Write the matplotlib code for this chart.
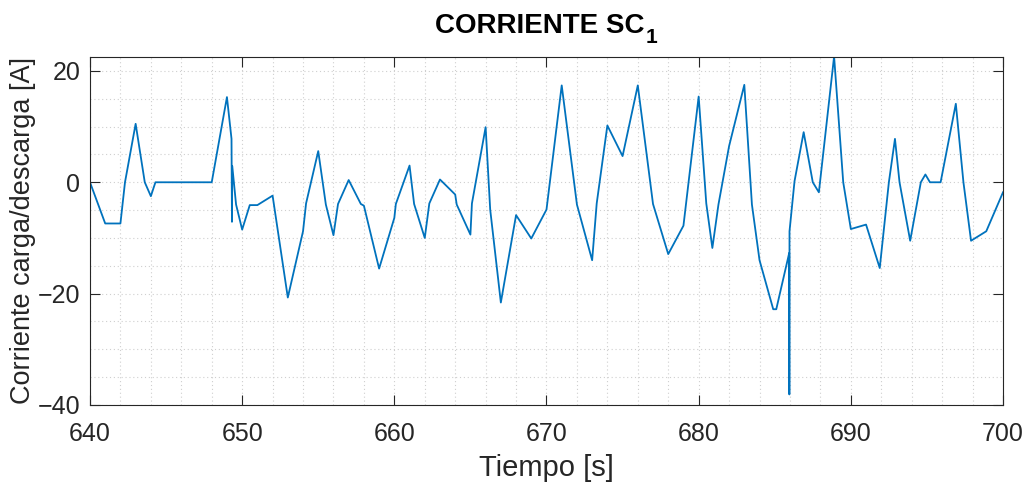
import matplotlib
matplotlib.use("Agg")
import matplotlib.pyplot as plt
from matplotlib.ticker import MultipleLocator

plt.rcParams['font.family'] = ['Liberation Sans', 'DejaVu Sans']

tiempo = [640.0, 641.0, 642.0, 642.3, 643.0, 643.6, 644.0, 644.3, 648.0, 649.0, 649.3, 649.33,
          649.35, 649.6, 650.0, 650.5, 651.0, 652.0, 653.0, 654.0, 654.2, 655.0, 655.5, 656.0,
          656.3, 657.0, 657.8, 658.0, 659.0, 660.0, 660.1, 661.0, 661.3, 662.0, 662.3, 663.0,
          664.0, 664.1, 665.0, 665.1, 666.0, 666.3, 667.0, 668.0, 669.0, 670.0, 671.0, 672.0,
          673.0, 673.3, 674.0, 675.0, 676.0, 677.0, 678.0, 679.0, 680.0, 680.5, 680.9, 681.3,
          682.0, 683.0, 683.5, 684.0, 684.9, 685.1, 685.95, 685.96, 685.97, 686.3, 686.9, 687.5,
          687.9, 688.9, 689.5, 690.0, 691.0, 691.9, 692.5, 692.9, 693.2, 693.9, 694.6, 694.9,
          695.2, 695.9, 696.9, 697.4, 697.9, 698.9, 700.0]
corriente = [0.0, -7.4, -7.4, 0.0, 10.5, 0.0, -2.5, 0.0, 0.0, 15.3, 7.8, -7.1,
             2.9, -4.0, -8.5, -4.1, -4.1, -2.4, -20.7, -8.8, -3.8, 5.6, -4.0, -9.5,
             -3.9, 0.4, -3.9, -4.2, -15.5, -6.4, -3.9, 3.0, -3.9, -10.0, -3.8, 0.5,
             -2.2, -4.0, -9.4, -3.8, 9.9, -4.9, -21.6, -5.9, -10.1, -4.9, 17.4, -4.0,
             -14.0, -3.8, 10.2, 4.7, 17.4, -3.9, -12.9, -7.8, 15.4, -3.8, -11.8, -4.0,
             6.5, 17.5, -4.0, -14.0, -22.8, -22.8, -12.7, -38.1, -8.8, 0.2, 9.0, 0.0,
             -1.8, 22.6, 0.0, -8.4, -7.6, -15.4, 0.0, 7.8, 0.0, -10.5, 0.0, 1.4,
             0.0, 0.0, 14.1, 0.0, -10.5, -8.8, -1.8]

W, H = 1032, 483
fig = plt.figure(figsize=(W / 100, H / 100), dpi=100)
ax = fig.add_axes([0.0872, 0.1615, 0.8847, 0.7205])
ax.plot(tiempo, corriente, color='#0072BD', linewidth=1.3)

ax.set_xlim(640, 700)
ax.set_ylim(-40, 22.5)
ax.xaxis.set_major_locator(MultipleLocator(10))
ax.xaxis.set_minor_locator(MultipleLocator(2))
ax.yaxis.set_major_locator(MultipleLocator(20))
ax.yaxis.set_minor_locator(MultipleLocator(5))
ax.grid(True, which='both', linestyle=(0, (1, 2.5)), color='#cfcfcf', linewidth=0.8)
ax.set_axisbelow(True)
ax.tick_params(which='major', direction='in', length=7, width=0.8, top=True, right=True,
               labelsize=18, colors='#262626')
ax.tick_params(axis='x', which='major', pad=12)
ax.tick_params(axis='y', which='major', pad=7)
ax.tick_params(which='minor', length=0, top=True, right=True)
for s in ax.spines.values():
    s.set_color('#262626')
    s.set_linewidth(0.8)

ax.set_xlabel('Tiempo [s]', fontsize=21, color='#262626', labelpad=6)
ax.set_ylabel('Corriente carga/descarga [A]', fontsize=19.5, color='#262626', labelpad=1)

# Title with a lowered subscript "1"
t1 = fig.text(0, 0, 'CORRIENTE SC', fontsize=20, fontweight='bold', color='black',
              ha='left', va='baseline')
t2 = fig.text(0, 0, '1', fontsize=15, fontweight='bold', color='black',
              ha='left', va='baseline')
fig.canvas.draw()
r = fig.canvas.get_renderer()
w1 = t1.get_window_extent(r).width
w2 = t2.get_window_extent(r).width
gap = 1.0
total = w1 + gap + w2
center = (90 + 1003) / 2
x0 = center - total / 2
base = H - 33
t1.set_position((x0 / W, base / H))
t2.set_position(((x0 + w1 + gap) / W, (base - 10) / H))

fig.savefig('out.png', dpi=100)
